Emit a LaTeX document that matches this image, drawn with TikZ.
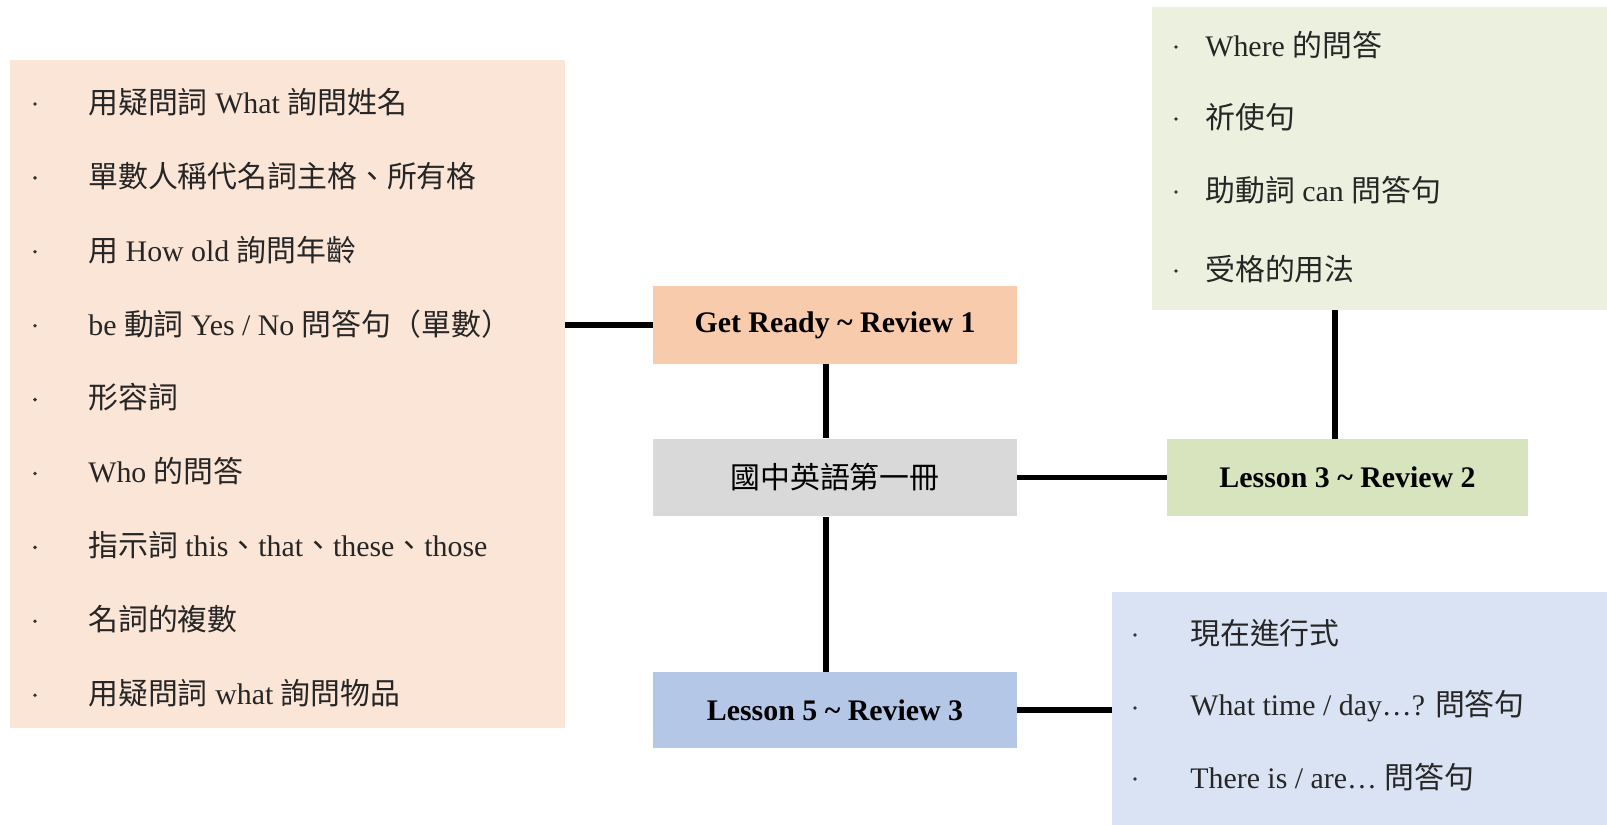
\documentclass[tikz,border=0pt]{standalone}
\usepackage{fontspec}
\setmainfont{Liberation Serif}
\newfontfamily\zh{Noto Sans CJK TC}
\definecolor{peachLight}{HTML}{FBE5D6}
\definecolor{peach}{HTML}{F8CBAD}
\definecolor{greyBox}{HTML}{D9D9D9}
\definecolor{oliveLight}{HTML}{EBF1DE}
\definecolor{olive}{HTML}{D7E4BD}
\definecolor{skyLight}{HTML}{DAE3F3}
\definecolor{sky}{HTML}{B4C7E7}
\tikzset{
  box/.style={minimum width=7.28cm, minimum height=1.56cm, inner sep=0pt, font=\fontsize{17}{20}\selectfont},
  panel/.style={inner sep=0pt},
  item/.style={anchor=west, inner sep=0pt, text=black!85, font=\fontsize{17}{20}\selectfont},
  dot/.style={circle, fill=black!80, inner sep=0pt, minimum size=2.2pt},
  link/.style={line width=3.4pt}
}
\begin{document}
\begin{tikzpicture}[x=0.02cm, y=-0.02cm]
  \useasboundingbox (0,0) rectangle (1607,825);

  % Panels behind the lists
  \node[panel, fill=peachLight, minimum width=11.1cm, minimum height=13.36cm] (gl) at (287.5,394) {};
  \node[panel, fill=oliveLight, minimum width=9.1cm, minimum height=6.06cm] (gt) at (1379.5,158.5) {};
  \node[panel, fill=skyLight, minimum width=9.9cm, minimum height=4.66cm] (gb) at (1359.5,708.5) {};

  % Lesson boxes
  \node[box, fill=peach] (gr) at (835,325) {\textbf{Get Ready \textasciitilde{} Review 1}};
  \node[box, fill=greyBox] (bk) at (835,477.5) {\zh 國中英語第一冊};
  \node[box, fill=olive, minimum width=7.22cm, minimum height=1.54cm] (l3) at (1347.5,477.5) {\textbf{Lesson 3 \textasciitilde{} Review 2}};
  \node[box, fill=sky, minimum height=1.52cm] (l5) at (835,710) {\textbf{Lesson 5 \textasciitilde{} Review 3}};

  % Items, Get Ready ~ Review 1
  \foreach \t [count=\i] in {
      {{\zh 用疑問詞} What {\zh 詢問姓名}},
      {{\zh 單數人稱代名詞主格、所有格}},
      {{\zh 用} How old {\zh 詢問年齡}},
      {be {\zh 動詞} Yes / No {\zh 問答句（單數）}},
      {{\zh 形容詞}},
      {Who {\zh 的問答}},
      {{\zh 指示詞} this{\zh 、}that{\zh 、}these{\zh 、}those},
      {{\zh 名詞的複數}},
      {{\zh 用疑問詞} what {\zh 詢問物品}}} {
    \node[dot] (gaDot\i) at (35,{104+73.9*(\i-1)}) {};
    \node[item] (ga\i) at (88,{102+73.9*(\i-1)}) {\t};
  }

  % Items, Lesson 3 ~ Review 2
  \foreach \t/\y [count=\i] in {
      {Where {\zh 的問答}}/45,
      {{\zh 祈使句}}/117,
      {{\zh 助動詞} can {\zh 問答句}}/190,
      {{\zh 受格的用法}}/269} {
    \node[dot] (gbDot\i) at (1176,\y+2) {};
    \node[item] (gb\i) at (1205,\y) {\t};
  }

  % Items, Lesson 5 ~ Review 3
  \foreach \t/\y [count=\i] in {
      {{\zh 現在進行式}}/633,
      {What time / day…? {\zh 問答句}}/706,
      {There is / are… {\zh 問答句}}/777} {
    \node[dot] (gcDot\i) at (1135,\y+2) {};
    \node[item] (gc\i) at (1190,\y) {\t};
  }

  % Connectors
  \draw[link] (gr.west -| gl.east) -- (gr.west);
  \draw[link] ([xshift=-0.18cm]gr.south) -- ([xshift=-0.18cm]bk.north);
  \draw[link] ([xshift=-0.18cm]bk.south) -- ([xshift=-0.18cm]l5.north);
  \draw[link] (bk.east) -- (l3.west);
  \draw[link] ([xshift=-0.25cm]l3.north) -- ([xshift=-0.25cm]l3.north |- gt.south);
  \draw[link] (l5.east) -- (l5.east -| gb.west);
\end{tikzpicture}
\end{document}
